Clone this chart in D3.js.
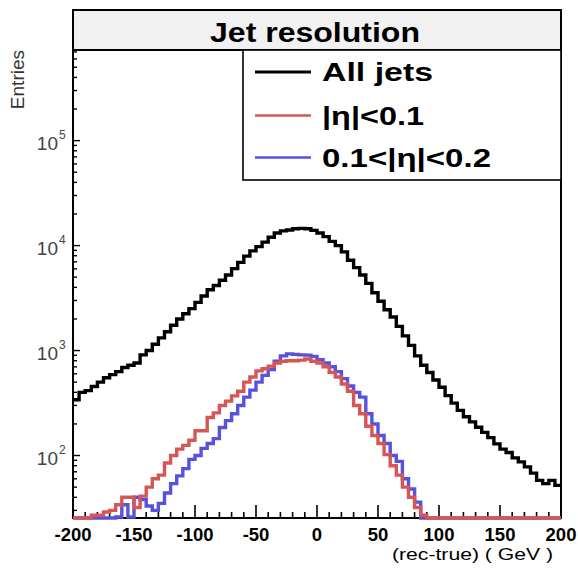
<!DOCTYPE html>
<html>
<head>
<meta charset="utf-8">
<script src="https://cdn.jsdelivr.net/npm/d3@7"></script>
<style>
  html, body { margin: 0; padding: 0; background: #fff; }
  svg { display: block; }
  text { font-family: "Liberation Sans", Arial, Helvetica, sans-serif; }
</style>
</head>
<body>
<svg id="chart" width="578" height="570"></svg>
<script>
// Histogram binning: 80 bins of 5 GeV from -200 to 200
const binLow = -200;
const binWidth = 5;

// Entries per bin, all jets
const allJets = [
  340, 400, 415, 455, 500, 550, 590, 630, 690, 725,
  760, 910, 1000, 1150, 1320, 1510, 1740, 2000, 2240, 2510,
  2880, 3310, 3800, 4170, 4680, 5250, 6030, 6920, 7940, 8910,
  9770, 10800, 12000, 13200, 13800, 14100, 14450, 14600, 14450, 13960,
  13200, 12160, 10960, 10000, 8710, 7240, 6170, 5250, 4370, 3550,
  2950, 2450, 2090, 1700, 1380, 1120, 890, 725, 617, 525,
  447, 372, 316, 269, 234, 209, 186, 166, 148, 129,
  115, 107, 95, 87, 78, 68, 58, 54, 58, 52
];

// Entries per bin, |eta| < 0.1
const etaCentral = [
  0, 0, 0, 27, 27, 29, 30, 34, 40, 40,
  32, 41, 50, 60, 65, 85, 100, 115, 125, 140,
  172, 172, 230, 255, 300, 330, 370, 410, 500, 560,
  640, 670, 710, 760, 790, 800, 800, 810, 830, 790,
  760, 700, 620, 560, 480, 410, 300, 250, 190, 155,
  130, 102, 80, 65, 50, 40, 32, 27, 0, 0,
  0, 0, 0, 0, 0, 0, 0, 0, 0, 0,
  0, 0, 0, 0, 0, 0, 0, 0, 0, 0
];

// Entries per bin, 0.1 < |eta| < 0.2
const etaForward = [
  0, 0, 0, 0, 0, 0, 0, 26, 34, 26,
  40, 38, 33, 30, 35, 44, 54, 64, 75, 92,
  100, 117, 130, 145, 185, 215, 250, 300, 360, 420,
  500, 580, 660, 790, 890, 930, 920, 910, 905, 880,
  820, 760, 700, 630, 540, 460, 400, 360, 250, 200,
  155, 130, 100, 88, 60, 48, 36, 0, 0, 0,
  0, 0, 0, 0, 0, 0, 0, 0, 0, 0,
  0, 0, 0, 0, 0, 0, 0, 0, 0, 0
];

const xTicks = [-200, -150, -100, -50, 0, 50, 100, 150, 200];
const yDecades = [100, 1000, 10000, 100000];
const legendLabels = ["All jets", "|\u03b7|<0.1", "0.1<|\u03b7|<0.2"];
const seriesColors = ["#000000", "#d65656", "#5752de"];

const svg = d3.select("#chart");
const frame = { left: 73, right: 561, top: 50, bottom: 518 };

const x = d3.scaleLinear().domain([-200, 200]).range([frame.left, frame.right]);
const y = d3.scaleLog().domain([25.4, 7.3e5]).range([frame.bottom, frame.top]);
const yMin = y.domain()[0];

// Frame
svg.append("rect")
  .attr("x", frame.left).attr("y", frame.top)
  .attr("width", frame.right - frame.left).attr("height", frame.bottom - frame.top)
  .attr("fill", "#fff").attr("stroke", "#000").attr("stroke-width", 2);

// X axis ticks (inside, major every 50, minor every 10)
const xAxisG = svg.append("g");
d3.range(-200, 201, 10).forEach(v => {
  const major = v % 50 === 0;
  xAxisG.append("line")
    .attr("x1", x(v)).attr("x2", x(v))
    .attr("y1", frame.bottom).attr("y2", frame.bottom - (major ? 13 : 6))
    .attr("stroke", "#000").attr("stroke-width", 1.6);
});
xTicks.forEach(v => {
  xAxisG.append("text")
    .attr("x", x(v)).attr("y", 541)
    .attr("text-anchor", "middle")
    .attr("font-size", 18.5).attr("font-weight", "bold")
    .attr("fill", "#000")
    .text(v);
});
xAxisG.append("text")
  .attr("x", 553).attr("y", 560)
  .attr("text-anchor", "end")
  .attr("font-size", 16)
  .attr("fill", "#000")
  .attr("textLength", 161).attr("lengthAdjust", "spacingAndGlyphs")
  .text("(rec-true) ( GeV )");

// Y axis ticks (log, inside)
const yAxisG = svg.append("g");
const [lo, hi] = y.domain();
for (let d = 10; d < hi; d *= 10) {
  for (let m = 1; m <= 9; m++) {
    const v = d * m;
    if (v < lo || v > hi) continue;
    yAxisG.append("line")
      .attr("x1", frame.left).attr("x2", frame.left + (m === 1 ? 7 : 4))
      .attr("y1", y(v)).attr("y2", y(v))
      .attr("stroke", "#000").attr("stroke-width", 1.4);
  }
}
yDecades.forEach(v => {
  yAxisG.append("text")
    .attr("x", 58).attr("y", y(v) + 9)
    .attr("text-anchor", "end")
    .attr("font-size", 19).attr("fill", "#444")
    .text("10");
  yAxisG.append("text")
    .attr("x", 59).attr("y", y(v) - 2)
    .attr("font-size", 12).attr("fill", "#444")
    .text(Math.round(Math.log10(v)));
});
yAxisG.append("text")
  .attr("transform", "translate(24,50) rotate(-90)")
  .attr("text-anchor", "end")
  .attr("font-size", 19).attr("fill", "#333")
  .text("Entries");

// Histograms as step outlines
function histPoints(vals) {
  const pts = vals.map((v, i) => [binLow + i * binWidth, v]);
  pts.push([binLow + vals.length * binWidth, vals[vals.length - 1]]);
  return pts;
}
const line = d3.line()
  .x(d => x(d[0]))
  .y(d => y(Math.max(d[1], yMin)))
  .curve(d3.curveStepAfter);

svg.append("clipPath").attr("id", "plotClip")
  .append("rect")
  .attr("x", frame.left).attr("y", frame.top)
  .attr("width", frame.right - frame.left).attr("height", frame.bottom - frame.top + 3);

const histG = svg.append("g").attr("clip-path", "url(#plotClip)");
[[allJets, 0], [etaForward, 2], [etaCentral, 1]].forEach(([vals, c]) => {
  histG.append("path")
    .attr("d", line(histPoints(vals)))
    .attr("fill", "none")
    .attr("stroke", seriesColors[c])
    .attr("stroke-width", 3.4)
    .attr("stroke-linejoin", "miter");
});

// Title box
svg.append("rect")
  .attr("x", frame.left).attr("y", 10)
  .attr("width", frame.right - frame.left).attr("height", 40)
  .attr("fill", "#f1f1f1").attr("stroke", "#000").attr("stroke-width", 2);
svg.append("text")
  .attr("x", 315).attr("y", 42)
  .attr("text-anchor", "middle")
  .attr("font-size", 27).attr("font-weight", "bold")
  .attr("textLength", 210).attr("lengthAdjust", "spacingAndGlyphs")
  .text("Jet resolution");

// Legend
const legend = svg.append("g");
legend.append("rect")
  .attr("x", 243).attr("y", 50)
  .attr("width", frame.right - 243).attr("height", 130)
  .attr("fill", "#fff").attr("stroke", "#000").attr("stroke-width", 1.6);
const legendRows = [72, 115.5, 157.5];
const legendWidths = [111, 102, 169];
legendLabels.forEach((label, i) => {
  legend.append("line")
    .attr("x1", 255).attr("x2", 311)
    .attr("y1", legendRows[i]).attr("y2", legendRows[i])
    .attr("stroke", seriesColors[i]).attr("stroke-width", i === 0 ? 3 : 2.5);
  legend.append("text")
    .attr("x", 322).attr("y", legendRows[i] + 9)
    .attr("font-size", 25).attr("font-weight", "bold")
    .attr("textLength", legendWidths[i]).attr("lengthAdjust", "spacingAndGlyphs")
    .text(label);
});
</script>
</body>
</html>
